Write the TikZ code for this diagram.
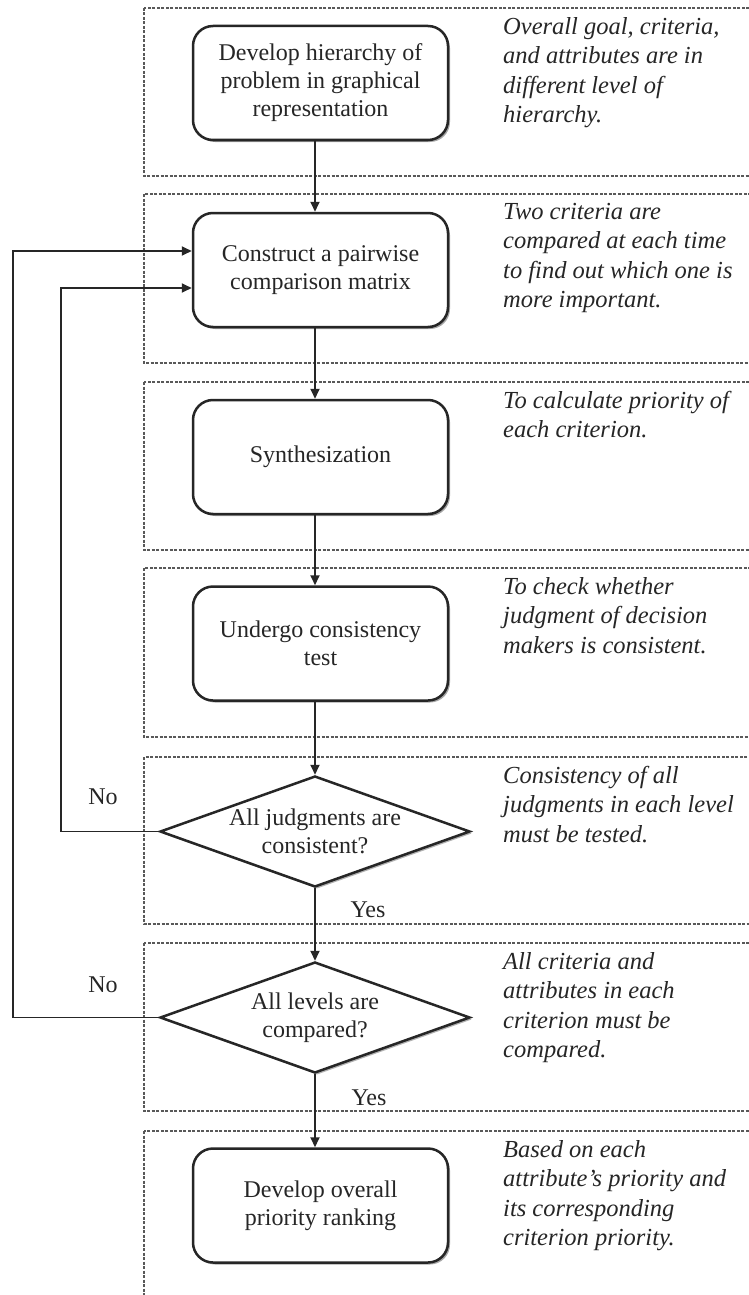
\documentclass[tikz,border=0pt]{standalone}
\usepackage{fontspec}
\setmainfont{Liberation Serif}
\usetikzlibrary{shapes.geometric,arrows.meta,shadows,calc}
\begin{document}
\begin{tikzpicture}[x=1pt,y=-1pt,
  panel/.style={draw=black!65, line width=1.5pt, dash pattern=on 3pt off 1.5pt},
  stepbox/.style={draw=black!85, line width=2.5pt, rounded corners=20pt, fill=white,
    minimum width=255pt, minimum height=114pt, align=center, inner sep=0pt,
    font=\fontsize{24}{28}\selectfont, text=black!85,
    drop shadow={shadow xshift=2pt, shadow yshift=-2pt, opacity=0.35, fill=black}},
  decision/.style={draw=black!85, line width=2.5pt, diamond, fill=white,
    minimum width=310pt, minimum height=111pt, inner sep=0pt,
    drop shadow={shadow xshift=2pt, shadow yshift=-2pt, opacity=0.3, fill=black}},
  dtext/.style={align=center, inner sep=0pt, font=\fontsize{24}{28}\selectfont, text=black!85},
  note/.style={anchor=north west, inner sep=0pt, align=left,
    font=\itshape\fontsize{24.5}{29.5}\selectfont, text=black!85},
  lbl/.style={inner sep=0pt, font=\fontsize{24}{28}\selectfont, text=black!85},
  conn/.style={draw=black!85, line width=1.8pt},
  arrow/.style={conn, -{Triangle[length=10pt,width=9pt]}}
]
\clip (0,0) rectangle (749,1295);
\fill[white] (0,0) rectangle (749,1295);

% dashed panels, one per stage
\draw[panel] (144,8)    rectangle (760,176);
\draw[panel] (144,194)  rectangle (760,363);
\draw[panel] (144,382)  rectangle (760,550);
\draw[panel] (144,568)  rectangle (760,737);
\draw[panel] (144,757)  rectangle (760,924);
\draw[panel] (144,943)  rectangle (760,1111);
\draw[panel] (144,1131) rectangle (760,1310);

% process steps
\node[stepbox] (b1) at (320.5,83)   {Develop hierarchy of\\problem in graphical\\representation};
\node[stepbox] (b2) at (320.5,270)  {Construct a pairwise\\comparison matrix};
\node[stepbox] (b3) at (320.5,457)  {Synthesization};
\node[stepbox] (b4) at (320.5,643.5){Undergo consistency\\test};
\node[decision] (d1) at (315,831.5) {};
\node[dtext] (t1) at (d1) {All judgments are\\consistent?};
\node[decision] (d2) at (315,1017.5) {};
\node[dtext] (t2) at (d2) {All levels are\\compared?};
\node[stepbox] (b5) at (320.5,1205.5) {Develop overall\\priority ranking};

% explanatory notes
\node[note] (n1) at (503,17)   {Overall goal, criteria,\\and attributes are in\\different level of\\hierarchy.};
\node[note] (n2) at (503,203)  {Two criteria are\\compared at each time\\to find out which one is\\more important.};
\node[note] (n3) at (503,391)  {To calculate priority of\\each criterion.};
\node[note] (n4) at (503,577)  {To check whether\\judgment of decision\\makers is consistent.};
\node[note] (n5) at (503,766)  {Consistency of all\\judgments in each level\\must be tested.};
\node[note] (n6) at (503,952)  {All criteria and\\attributes in each\\criterion must be\\compared.};
\node[note] (n7) at (503,1140) {Based on each\\attribute's priority and\\its corresponding\\criterion priority.};

% main flow
\draw[arrow] (b1.south -| d1.north) -- (b2.north -| d1.north);
\draw[arrow] (b2.south -| d1.north) -- (b3.north -| d1.north);
\draw[arrow] (b3.south -| d1.north) -- (b4.north -| d1.north);
\draw[arrow] (b4.south -| d1.north) -- (d1.north);
\draw[arrow] (d1.south) -- (d2.north);
\draw[arrow] (d2.south) -- (b5.north -| d2.south);

% feedback loops
\coordinate (loopA) at (61,560);
\coordinate (loopB) at (13,560);
\draw[arrow] (d1.west) -| (loopA) |- ($(b2.west)+(0,18)$);
\draw[arrow] (d2.west) -| (loopB) |- ($(b2.west)+(0,-19)$);

% branch labels
\node[lbl] (no1)  at (103,797)  {No};
\node[lbl] (no2)  at (103,985)  {No};
\node[lbl] (yes1) at (368,910)  {Yes};
\node[lbl] (yes2) at (369,1098) {Yes};
\end{tikzpicture}
\end{document}
